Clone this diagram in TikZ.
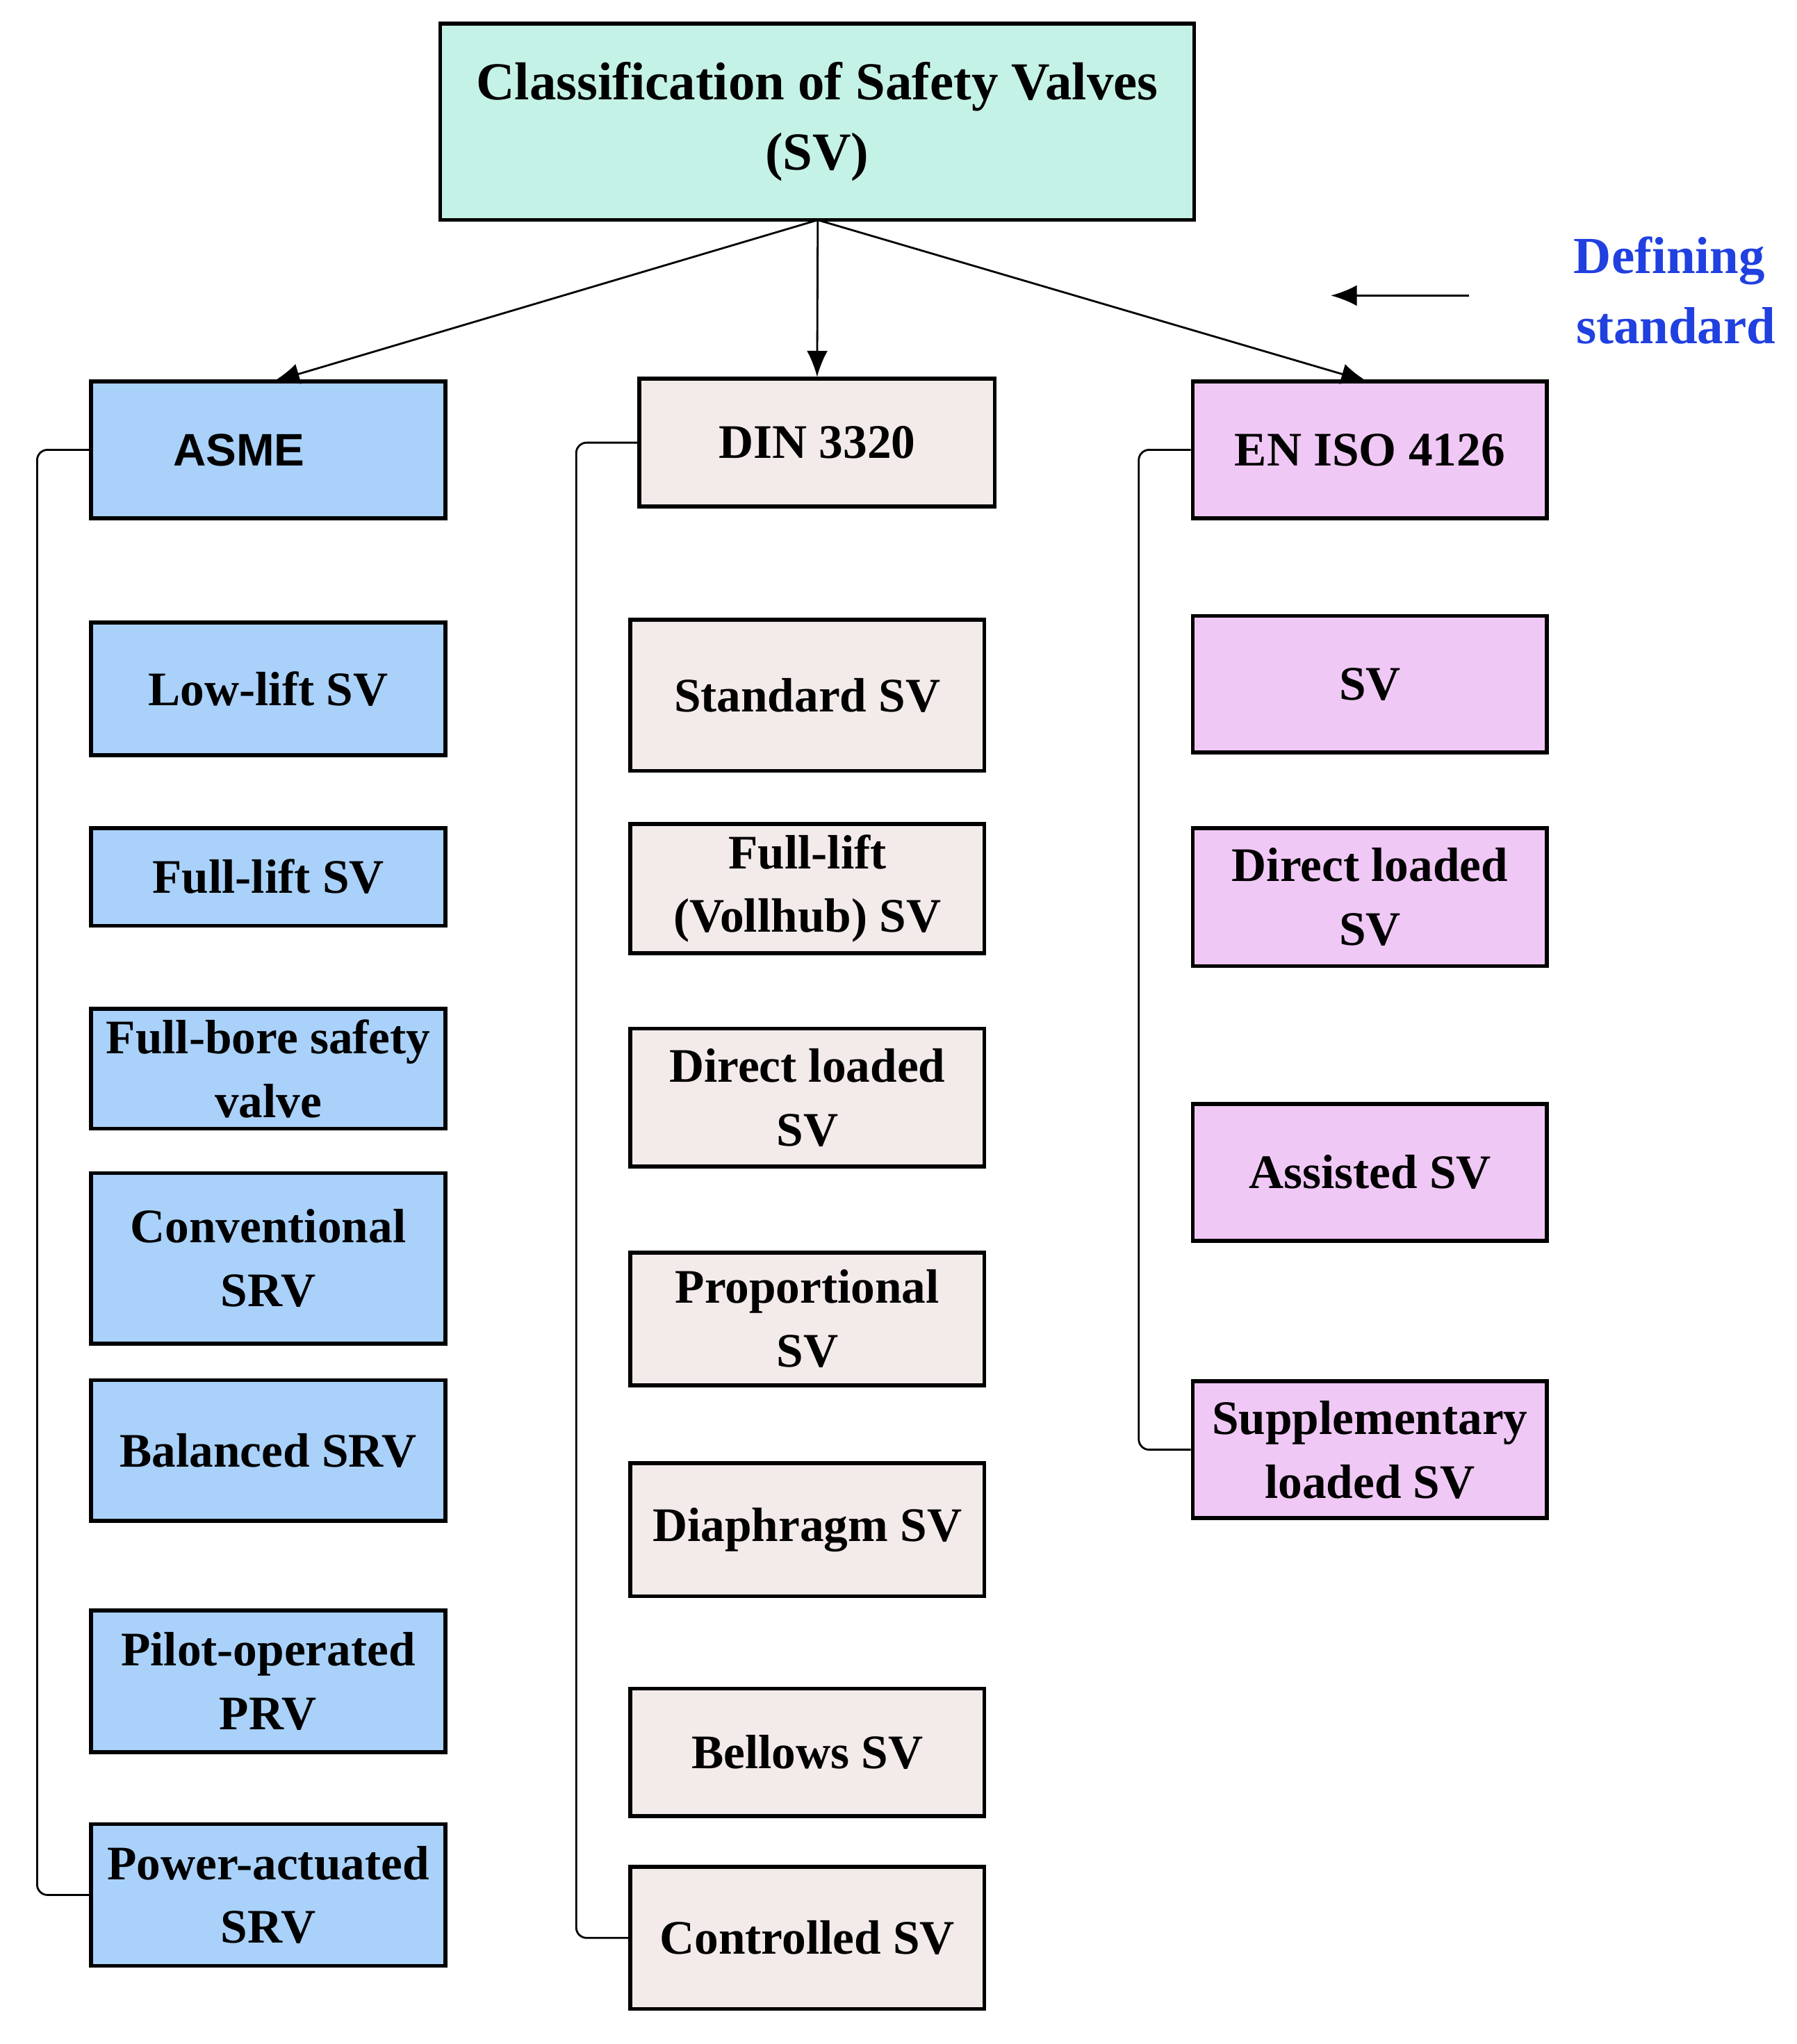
\documentclass[tikz,border=0pt]{standalone}
\usepackage{fontspec}
\setmainfont{Liberation Serif}
\newfontfamily\asmefont{Liberation Sans}
\usetikzlibrary{arrows.meta}
\definecolor{cTitle}{HTML}{C5F2E6}
\definecolor{cAsme}{HTML}{A9D1FA}
\definecolor{cDin}{HTML}{F3EAEA}
\definecolor{cEn}{HTML}{F0C8F5}
\definecolor{cBlue}{HTML}{2040E0}
\begin{document}
\begin{tikzpicture}[x=1pt,y=-1pt,
  bx/.style={draw=black,line width=3pt,inner sep=0pt,align=center,font=\fontsize{37}{49}\selectfont\bfseries},
  br/.style={draw=black,line width=1.5pt,rounded corners=8pt},
  ar/.style={draw=black,line width=1.5pt,-{Latex[length=20pt,width=16pt]}}]
\useasboundingbox (0,0) rectangle (1380,1570);
% title
\node[bx,fill=cTitle,minimum width=579pt,minimum height=151pt,font=\fontsize{41}{54}\selectfont\bfseries] (T) at (627.5,93.5) {Classification of Safety Valves\\(SV)};
% headers
\node[bx,fill=cAsme,minimum width=272pt,minimum height=105pt,font=\fontsize{35}{40}\selectfont\bfseries\asmefont] (A) at (206,345.5) {\hspace*{-45pt}ASME};
\node[bx,fill=cDin,minimum width=273pt,minimum height=98pt] (D) at (627.5,340) {DIN 3320};
\node[bx,fill=cEn,minimum width=272pt,minimum height=105pt] (E) at (1052,345.5) {EN ISO 4126};
\coordinate (Tb) at (628,169);
\draw[ar] (Tb) -- (210,293);
\draw[ar] (Tb) -- (D.north);
\draw[ar] (Tb) -- (1050,293);
\coordinate (ds1) at (1128,227);
\coordinate (ds2) at (1022,227);
\draw[ar] (ds1) -- (ds2);
\node[font=\fontsize{40}{54}\selectfont\bfseries,text=cBlue,align=center] (DS) at (1282,223) {Defining\\\hspace*{10pt}standard};
% ASME children
\foreach \n/\a/\b/\t in {a1/478/580/{Low-lift SV},a2/636/711/{Full-lift SV},a3/775/867/{Full-bore safety\\valve},a4/901/1032/{Conventional\\SRV},a5/1060/1168/{Balanced SRV},a6/1237/1346/{Pilot-operated\\PRV},a7/1401/1510/{Power-actuated\\SRV}}
  \node[bx,fill=cAsme,minimum width=272pt,minimum height=\b-\a] (\n) at (206,{(\a+\b)/2}) {\t};
\foreach \n/\a/\b/\t in {d1/476/592/{Standard SV},d2/633/732/{Full-lift\\(Vollhub) SV},d3/790/896/{Direct loaded\\SV},d4/962/1064/{Proportional\\SV},d5/1124/1226/{Diaphragm SV},d6/1297/1395/{Bellows SV},d7/1434/1543/{Controlled SV}}
  \node[bx,fill=cDin,minimum width=272pt,minimum height=\b-\a] (\n) at (620,{(\a+\b)/2}) {\t};
\foreach \n/\a/\b/\t in {e1/473/578/{SV},e2/636/742/{Direct loaded\\SV},e3/848/953/{Assisted SV},e4/1061/1166/{Supplementary\\loaded SV}}
  \node[bx,fill=cEn,minimum width=272pt,minimum height=\b-\a] (\n) at (1052,{(\a+\b)/2}) {\t};
% brackets
\draw[br] (A.west) -- ++(-40,0) |- (a7.west);
\draw[br] (D.west) -- ++(-47,0) |- (d7.west);
\draw[br] (E.west) -- ++(-40,0) |- (e4.west);
\end{tikzpicture}
\end{document}
